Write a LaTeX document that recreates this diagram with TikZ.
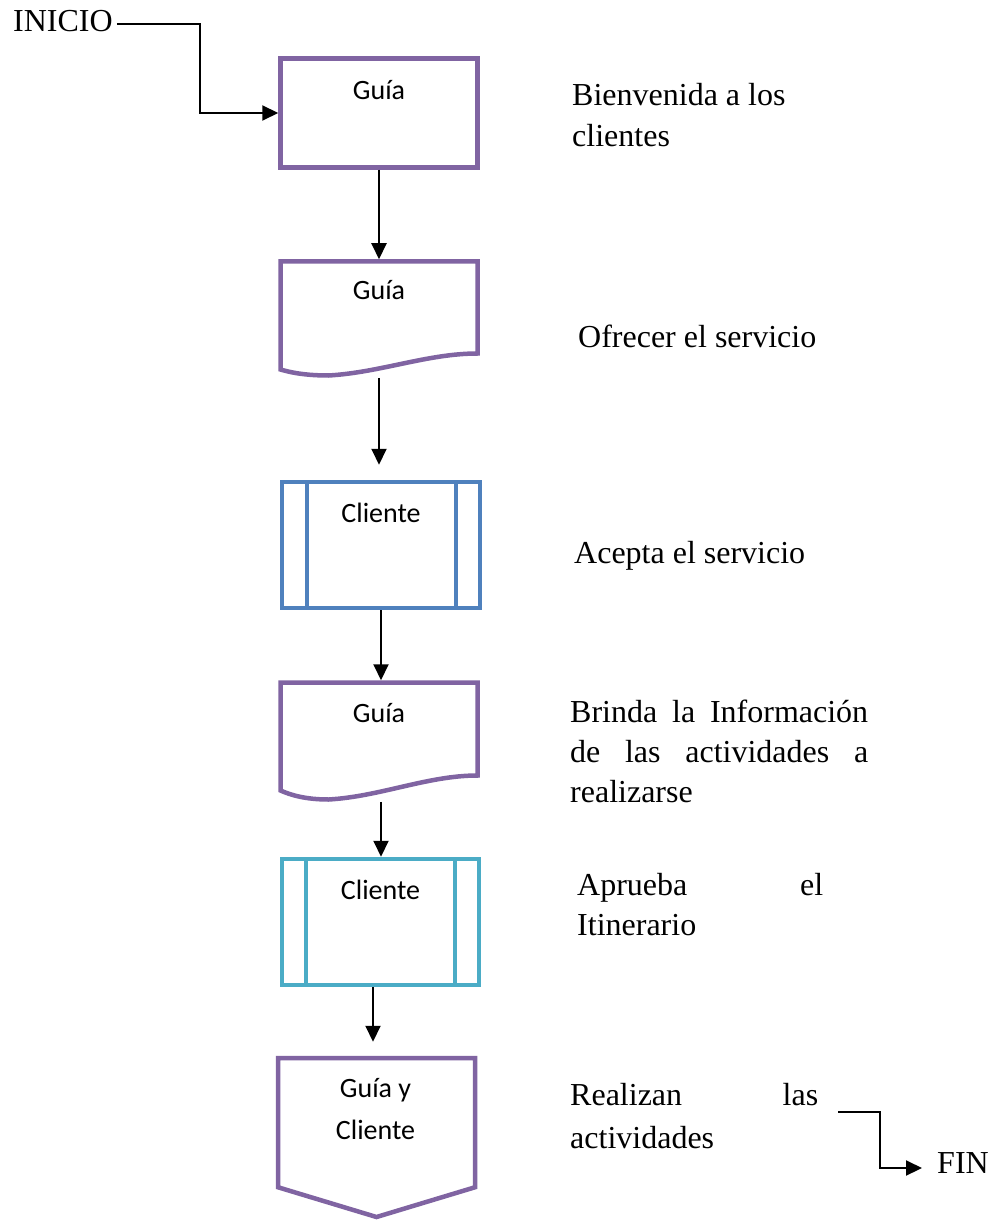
\documentclass[tikz,border=0pt]{standalone}
\usepackage{fontspec}
\setmainfont{Liberation Serif}
\newfontfamily\boxfont{Carlito}
\usetikzlibrary{arrows.meta,calc}

\definecolor{guiaPurple}{HTML}{8064A2}
\definecolor{clienteBlue}{HTML}{4F81BD}
\definecolor{clienteTeal}{HTML}{4BACC6}

\tikzset{
  flowbox/.style={rectangle, line width=4.5pt, inner sep=0pt},
  boxtxt/.style={anchor=base, inner sep=0pt, font=\boxfont\fontsize{28}{34}\selectfont},
  sidetxt/.style={anchor=base west, inner sep=0pt, font=\fontsize{32}{40}\selectfont},
  arr/.style={line width=2pt, -{Triangle[length=16pt,width=15pt]}},
}

\begin{document}
\begin{tikzpicture}[x=1pt,y=-1pt]
\useasboundingbox (0,0) rectangle (1008,1222);
\fill[white] (0,0) rectangle (1008,1222);

% ---- shapes of the flow ----
% process box
\node[flowbox, draw=guiaPurple, minimum width=197pt, minimum height=109pt] (box1) at (379,113) {};
% document shapes (outline drawn below)
\node[flowbox, minimum width=197pt, minimum height=114pt] (doc2) at (379,318.5) {};
\node[flowbox, minimum width=197pt, minimum height=117pt] (doc4) at (379,741) {};
% predefined-process boxes
\node[flowbox, draw=clienteBlue, minimum width=198pt, minimum height=126pt] (box3) at (381,545) {};
\node[flowbox, draw=clienteTeal, minimum width=197pt, minimum height=126pt] (box5) at (380.5,922) {};
% off-page connector (outline drawn below)
\node[flowbox, minimum width=197pt, minimum height=159pt] (box6) at (376.5,1137.5) {};

% document outlines with wavy bottom
\foreach \d/\l/\r in {doc2/6/22, doc4/9/24}{
  \coordinate (\d-nw) at ($(\d.north west)+(2.25,2.25)$);
  \coordinate (\d-ne) at ($(\d.north east)+(-2.25,2.25)$);
  \coordinate (\d-se) at ($(\d.south east)+(-2.25,-2.25)$);
  \coordinate (\d-sw) at ($(\d.south west)+(2.25,-2.25)$);
  \draw[line width=4.5pt, draw=guiaPurple, line join=miter]
    (\d-nw) -- (\d-ne) -- ($(\d-se)+(0,-\r)$)
    .. controls ($(\d-se)+(-50,-\r)$) and ($(\d-sw)+(100,-3)$)
    .. ($(\d-sw)+(48,0)$)
    .. controls ($(\d-sw)+(25,0)$) and ($(\d-sw)+(10,-\l/2)$)
    .. ($(\d-sw)+(0,-\l)$) -- cycle;
}
% inner bars of the predefined-process boxes
\draw[line width=4.5pt, draw=clienteBlue]
  ($(box3.north west)+(27.25,2.25)$) -- ($(box3.south west)+(27.25,-2.25)$)
  ($(box3.north east)+(-26.25,2.25)$) -- ($(box3.south east)+(-26.25,-2.25)$);
\draw[line width=4.5pt, draw=clienteTeal]
  ($(box5.north west)+(26.25,2.25)$) -- ($(box5.south west)+(26.25,-2.25)$)
  ($(box5.north east)+(-26.25,2.25)$) -- ($(box5.south east)+(-26.25,-2.25)$);
% off-page connector outline
\draw[line width=4.5pt, draw=guiaPurple, line join=miter]
  ($(box6.north west)+(2.25,2.25)$) -- ($(box6.north east)+(-2.25,2.25)$)
  -- ($(box6.south east)+(-2.25,-32)$) -- ($(box6.south)+(0,-2.25)$)
  -- ($(box6.south west)+(2.25,-32)$) -- cycle;

% ---- texts inside the shapes ----
\node[boxtxt] (t1) at ($(box1.north)+(0,43.5)$) {Guía};
\node[boxtxt] (t2) at ($(doc2.north)+(0,40.5)$) {Guía};
\node[boxtxt] (t3) at ($(box3.north)+(0,43)$) {Cliente};
\node[boxtxt] (t4) at ($(doc4.north)+(0,42.5)$) {Guía};
\node[boxtxt] (t5) at ($(box5.north)+(0,43)$) {Cliente};
\node[boxtxt] (t6a) at ($(box6.north)+(-1,42)$) {Guía y};
\node[boxtxt] (t6b) at ($(box6.north)+(-1,84)$) {Cliente};

% ---- descriptions on the right ----
\node[sidetxt] (d1a) at (572,106) {Bienvenida a los};
\node[sidetxt] (d1b) at (572,147) {clientes};
\node[sidetxt] (d2)  at (578,347) {Ofrecer el servicio};
\node[sidetxt] (d3)  at (574,563) {Acepta el servicio};
\node[sidetxt] (d4a) at (570,722) {\makebox[298pt][s]{Brinda la Información}};
\node[sidetxt] (d4b) at (570,762) {\makebox[298pt][s]{de las actividades a}};
\node[sidetxt] (d4c) at (570,802) {realizarse};
\node[sidetxt] (d5a) at (577,895) {\makebox[246pt][s]{Aprueba el}};
\node[sidetxt] (d5b) at (577,935) {Itinerario};
\node[sidetxt] (d6a) at (570,1105) {\makebox[248pt][s]{Realizan las}};
\node[sidetxt] (d6b) at (570,1148) {actividades};

% ---- start and end ----
\node[sidetxt] (inicio) at (13,32) {INICIO};
\node[sidetxt] (fin) at (937,1173) {FIN};
\coordinate (bendA) at (200,113);
\coordinate (finStart) at (838,1112);
\coordinate (finBend) at (880,1168);
\coordinate (from4) at ($(doc4.south)+(2,0)$);
\coordinate (from5) at ($(box5.south)+(-7.5,0)$);

% ---- connectors ----
\draw[arr] ($(inicio.east)+(4,2)$) -| (bendA) -- (box1.west);
\draw[arr] (box1.south) -- (doc2.north);
\draw[arr, shorten >=15pt] (doc2.south) -- (doc2.south |- box3.north);
\draw[arr] (box3.south) -- (box3.south |- doc4.north);
\draw[arr] (from4) -- (from4 |- box5.north);
\draw[arr, shorten >=14pt] (from5) -- (from5 |- box6.north);
\draw[arr] (finStart) -| (finBend) -- ($(finBend -| fin.west)+(-15,0)$);

\end{tikzpicture}
\end{document}
